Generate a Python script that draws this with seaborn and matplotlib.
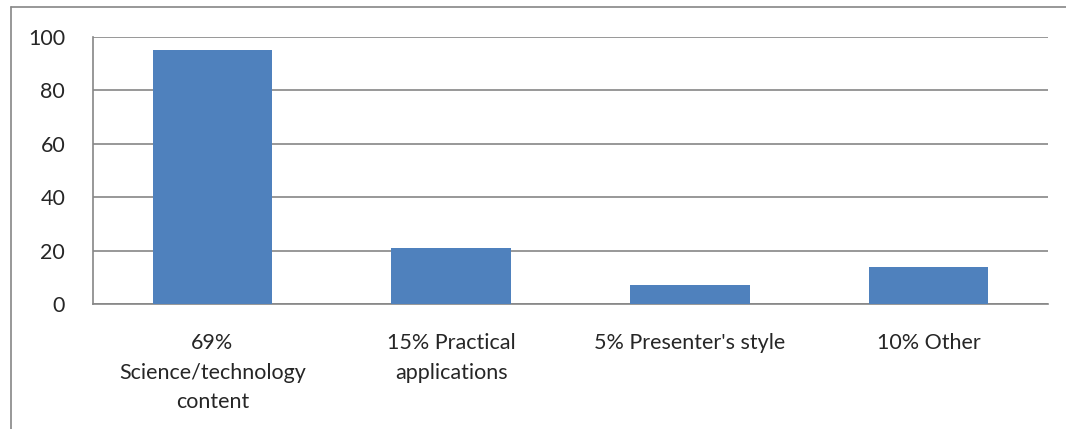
import seaborn as sns
import matplotlib.pyplot as plt
import pandas as pd
from matplotlib.lines import Line2D

# Reasons given (survey), bar heights
categories = ["69%\nScience/technology\ncontent", "15% Practical\napplications",
              "5% Presenter's style", "10% Other"]
counts = [95, 21, 7, 14]
y_ticks = [0, 20, 40, 60, 80, 100]

df = pd.DataFrame({"category": categories, "count": counts})

sns.set_style("white")
plt.rcParams['font.family'] = ['Lato', 'DejaVu Sans']

fig = plt.figure(figsize=(10.66, 4.29), dpi=100)
ax = fig.add_axes([93 / 1066, 1 - 304 / 429, (1048 - 93) / 1066, (304 - 37) / 429])

sns.barplot(data=df, x="category", y="count", color="#4f81bd", width=0.5,
            saturation=1, linewidth=0, ax=ax, zorder=3)

ax.set_ylim(0, 100)
ax.set_xlim(-0.5, len(categories) - 0.5)
ax.set_yticks(y_ticks)
ax.yaxis.grid(True, color="#868686", linewidth=1.2, zorder=0)
ax.set_xlabel("")
ax.set_ylabel("")

# category boundary ticks like the Excel axis
ax.set_xticks([i + 0.5 for i in range(-1, len(categories))], minor=True)
ax.set_xticks(range(len(categories)))
ax.set_xticklabels(categories, fontsize=15.5, linespacing=1.6)
ax.tick_params(axis="x", which="major", length=0, pad=21)
ax.tick_params(axis="x", which="minor", length=7, width=1.2, color="#868686", direction="out")
ax.tick_params(axis="y", length=7, width=1.2, color="#868686", direction="out",
               labelsize=15.5, pad=13)

for s in ["top", "right"]:
    ax.spines[s].set_visible(False)
for s in ["left", "bottom"]:
    ax.spines[s].set_color("#868686")
    ax.spines[s].set_linewidth(1.2)

# outer chart-area border (left and top)
fig.add_artist(Line2D([11 / 1066, 11 / 1066], [0, 1 - 7 / 429], color="#868686", lw=1.2))
fig.add_artist(Line2D([11 / 1066, 1], [1 - 7 / 429, 1 - 7 / 429], color="#868686", lw=1.2))

plt.savefig("out.png", dpi=100)
plt.close()
